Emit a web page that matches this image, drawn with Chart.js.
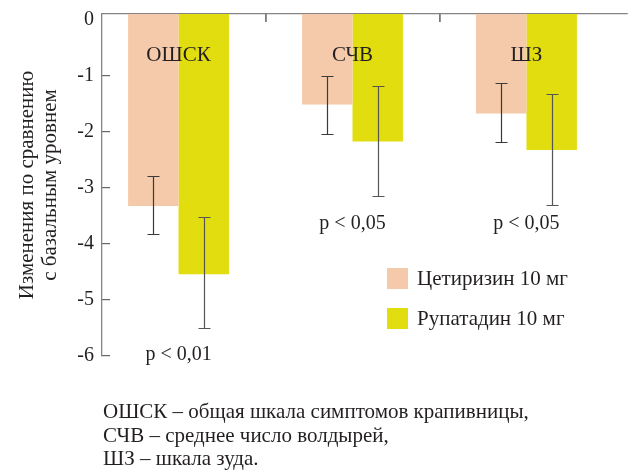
<!DOCTYPE html>
<html><head><meta charset="utf-8">
<script src="https://cdn.jsdelivr.net/npm/chart.js@4.4.0/dist/chart.umd.min.js"></script>
<style>
html,body{margin:0;padding:0;background:#fff;}
#wrap{position:relative;width:633px;height:472px;font-family:"Liberation Serif","Times New Roman",serif;color:#231f20;overflow:hidden;}
canvas{position:absolute;left:0;top:0;}
.leg{position:absolute;left:387px;font-size:21px;line-height:21px;white-space:nowrap;}
.leg span{display:inline-block;width:21px;height:21px;vertical-align:top;margin-right:9px;}
#note{position:absolute;left:103px;top:400px;font-size:21px;line-height:23.5px;white-space:nowrap;}
</style></head>
<body><div id="wrap"><canvas id="c" width="633" height="472"></canvas><div id="legend"></div><div id="note"></div></div>
<script>
// ---- data ----
const categories = ['ОШСК', 'СЧВ', 'ШЗ'];
const seriesNames = ['Цетиризин 10 мг', 'Рупатадин 10 мг'];
const cetirizine = [-3.32, -1.51, -1.67];
const rupatadine = [-4.54, -2.17, -2.32];
const cetErrTop = [-2.78, -1.00, -1.13];
const cetErrBottom = [-3.82, -2.04, -2.18];
const rupErrTop = [-3.52, -1.17, -1.32];
const rupErrBottom = [-5.50, -3.15, -3.30];
const pValues = ['p < 0,01', 'p < 0,05', 'p < 0,05'];
const yTicks = [0, -1, -2, -3, -4, -5, -6];
const yTitle = ['Изменения по сравнению', 'с базальным уровнем'];
const footnotes = ['ОШСК – общая шкала симптомов крапивницы,', 'СЧВ – среднее число волдырей,', 'ШЗ – шкала зуда.'];

// ---- styles / placement ----
const FONT = '"Liberation Serif", "Times New Roman", serif';
const TEXT = '#231f20';
const colors = ['#f4caaa', '#e1dd0f'];
const errColors = ['#3a3a3a', '#555555'];
const catLabelY = -0.64;
const pLabelY = [-5.98, -3.63, -3.63];

const errorBars = {
  id: 'errorBars',
  afterDatasetsDraw(chart) {
    const {ctx, scales: {y}} = chart;
    chart.data.datasets.forEach((ds, di) => {
      const meta = chart.getDatasetMeta(di);
      meta.data.forEach((bar, i) => {
        const x = Math.round(bar.x) + 0.5;
        const yt = Math.round(y.getPixelForValue(ds.errTop[i])) + 0.5;
        const yb = Math.round(y.getPixelForValue(ds.errBottom[i])) + 0.5;
        ctx.save();
        ctx.strokeStyle = ds.errColor;
        ctx.lineWidth = 1.2;
        ctx.beginPath();
        ctx.moveTo(x, yt); ctx.lineTo(x, yb);
        ctx.moveTo(x - 6, yt); ctx.lineTo(x + 6, yt);
        ctx.moveTo(x - 6, yb); ctx.lineTo(x + 6, yb);
        ctx.stroke();
        ctx.restore();
      });
    });
  }
};

const textLabels = {
  id: 'textLabels',
  afterDatasetsDraw(chart) {
    const {ctx, scales: {x, y}} = chart;
    ctx.save();
    ctx.fillStyle = TEXT;
    ctx.textAlign = 'center';
    ctx.textBaseline = 'middle';
    categories.forEach((c, i) => {
      const px = x.getPixelForValue(i + 1);
      ctx.font = '21px ' + FONT;
      ctx.fillText(c, px, y.getPixelForValue(catLabelY));
      ctx.font = '20px ' + FONT;
      ctx.fillText(pValues[i], px, y.getPixelForValue(pLabelY[i]));
    });
    ctx.restore();
  }
};

const ctx = document.getElementById('c').getContext('2d');
new Chart(ctx, {
  type: 'bar',
  data: {
    datasets: [
      {label: seriesNames[0], data: cetirizine.map((v, i) => ({x: i + 1, y: v})), backgroundColor: colors[0],
       base: 0.107, errTop: cetErrTop, errBottom: cetErrBottom, errColor: errColors[0]},
      {label: seriesNames[1], data: rupatadine.map((v, i) => ({x: i + 1, y: v})), backgroundColor: colors[1],
       base: 0.107, errTop: rupErrTop, errBottom: rupErrBottom, errColor: errColors[1]}
    ]
  },
  options: {
    responsive: false,
    animation: false,
    layout: {padding: {left: 0, top: 0, right: 6, bottom: 116}},
    datasets: {bar: {categoryPercentage: 0.58, barPercentage: 1}},
    plugins: {legend: {display: false}, tooltip: {enabled: false}},
    scales: {
      x: {
        type: 'linear', position: 'top', min: 0.56, max: 3.578, offset: false,
        grid: {offset: false, drawOnChartArea: false, tickLength: -8, tickColor: '#7a7a7a', lineWidth: 1.8},
        border: {color: '#858585', width: 1.3},
        ticks: {display: false},
        afterBuildTicks(s) { s.ticks = [{value: 1.5}, {value: 2.5}]; },
        afterFit(s) { s.height = 14; s.paddingLeft = 0; s.paddingRight = 0; }
      },
      y: {
        min: -6, max: 0.107,
        grid: {drawOnChartArea: false, tickLength: -8, lineWidth: 1.2,
               tickColor: c => (c.tick && c.tick.value === 0) ? 'rgba(0,0,0,0)' : '#666'},
        border: {color: '#858585', width: 1.3},
        ticks: {font: {family: FONT, size: 20}, color: TEXT, padding: 16},
        afterBuildTicks(s) { s.ticks = yTicks.map(v => ({value: v})); },
        afterFit(s) { s.width = 102; s.paddingTop = 0; s.paddingBottom = 0; },
        title: {display: true, text: yTitle, color: TEXT, font: {family: FONT, size: 21, lineHeight: 1.1}, padding: {top: 15.5, bottom: 0}}
      }
    }
  },
  plugins: [errorBars, textLabels]
});

// HTML legend and footnote
const legend = document.getElementById('legend');
seriesNames.forEach((n, i) => {
  const d = document.createElement('div');
  d.className = 'leg';
  d.style.top = (268 + i * 40) + 'px';
  const s = document.createElement('span');
  s.style.background = colors[i];
  d.appendChild(s);
  d.appendChild(document.createTextNode(n));
  legend.appendChild(d);
});
document.getElementById('note').innerHTML = footnotes.join('<br>');
</script>
</body></html>
